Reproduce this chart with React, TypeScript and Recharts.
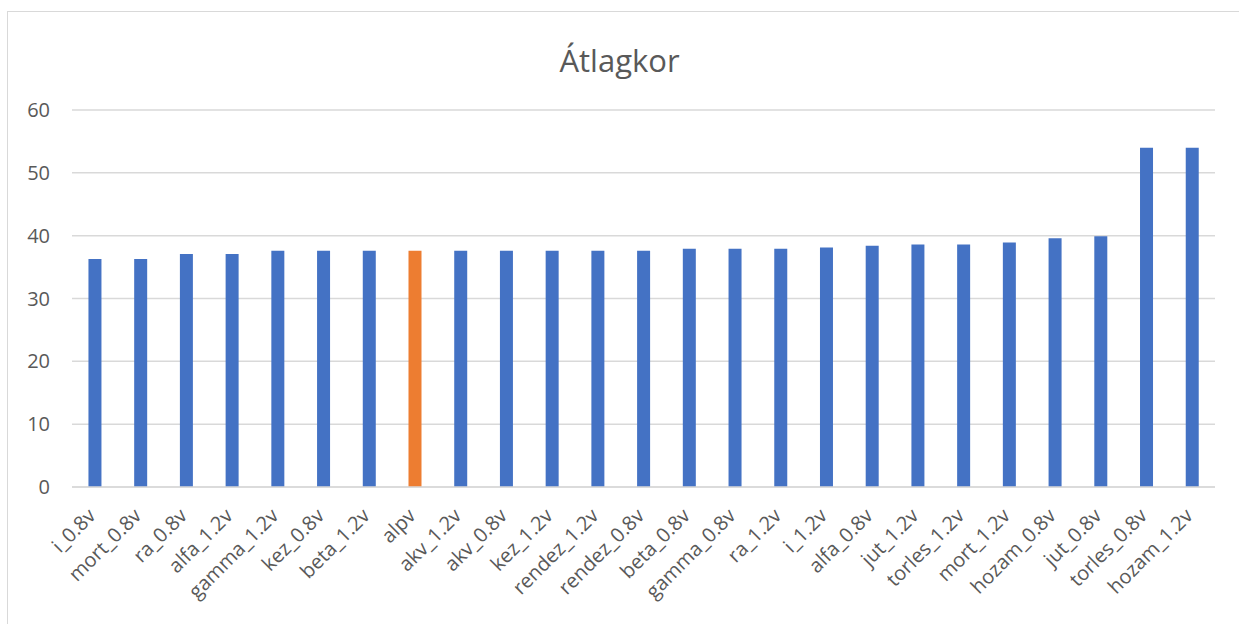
import { BarChart, Bar, XAxis, YAxis, CartesianGrid, Cell } from "recharts";

const categories = [
  "i_0.8v", "mort_0.8v", "ra_0.8v", "alfa_1.2v", "gamma_1.2v", "kez_0.8v", "beta_1.2v",
  "alpv", "akv_1.2v", "akv_0.8v", "kez_1.2v", "rendez_1.2v", "rendez_0.8v", "beta_0.8v",
  "gamma_0.8v", "ra_1.2v", "i_1.2v", "alfa_0.8v", "jut_1.2v", "torles_1.2v", "mort_1.2v",
  "hozam_0.8v", "jut_0.8v", "torles_0.8v", "hozam_1.2v",
];

const values = [
  36.3, 36.3, 37.1, 37.1, 37.6, 37.6, 37.6,
  37.6, 37.6, 37.6, 37.6, 37.6, 37.6, 37.9,
  37.9, 37.9, 38.1, 38.4, 38.6, 38.6, 38.9,
  39.6, 39.9, 54.0, 54.0,
];

const highlighted = ["alpv"];
const yTicks = [0, 10, 20, 30, 40, 50, 60];

const BLUE = "#4472C4";
const ORANGE = "#ED7D31";
const TEXT = "#595959";
const FONT = "'Open Sans', 'Noto Sans', sans-serif";

const data = categories.map((name, i) => ({ name, value: values[i] }));

function RotatedTick({ x, y, payload }: any) {
  return (
    <g transform={`translate(${x + 2},${y + 22})`}>
      <text textAnchor="end" transform="rotate(-45)" fill={TEXT} fontSize={20} fontFamily={FONT}>
        {payload.value}
      </text>
    </g>
  );
}

export default function App() {
  return (
    <div
      style={{
        position: "absolute",
        left: 0,
        top: 0,
        width: 1239,
        height: 624,
        overflow: "hidden",
        background: "#fff",
      }}
    >
      <div
        style={{
          position: "absolute",
          left: 7,
          top: 11,
          width: 1260,
          height: 640,
          border: "1px solid #d9d9d9",
        }}
      />
      <div
        style={{
          position: "absolute",
          left: 0,
          width: 1239,
          top: 39,
          textAlign: "center",
          fontFamily: FONT,
          fontSize: 31,
          lineHeight: "42px",
          color: TEXT,
        }}
      >
        Átlagkor
      </div>
      <div style={{ position: "absolute", left: 0, top: 0 }}>
        <BarChart
          width={1239}
          height={624}
          data={data}
          margin={{ top: 110, right: 24, left: 12, bottom: 0 }}
          barCategoryGap="36%"
        >
          <CartesianGrid vertical={false} stroke="#d9d9d9" strokeWidth={1.5} />
          <XAxis
            dataKey="name"
            interval={0}
            height={137}
            tick={<RotatedTick />}
            tickLine={false}
            axisLine={{ stroke: "#d9d9d9", strokeWidth: 1.5 }}
          />
          <YAxis
            width={60}
            domain={[0, 60]}
            ticks={yTicks}
            axisLine={false}
            tickLine={false}
            tick={{ fill: TEXT, fontSize: 20, fontFamily: FONT }}
            tickMargin={16}
          />
          <Bar dataKey="value" isAnimationActive={false}>
            {data.map((d) => (
              <Cell key={d.name} fill={highlighted.includes(d.name) ? ORANGE : BLUE} />
            ))}
          </Bar>
        </BarChart>
      </div>
    </div>
  );
}
